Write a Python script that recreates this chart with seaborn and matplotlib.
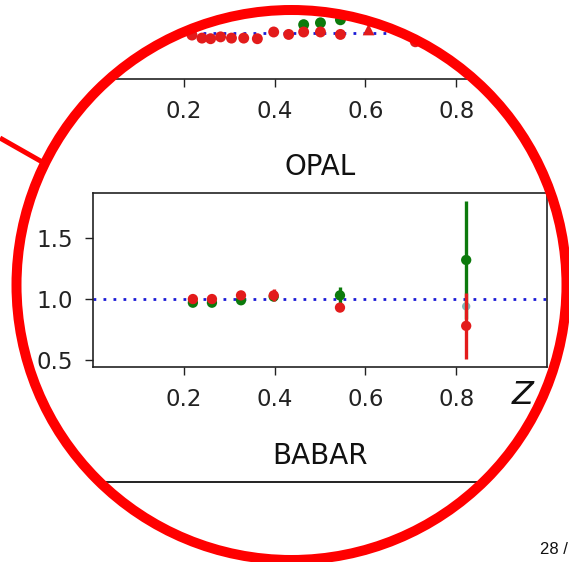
import numpy as np
import matplotlib
matplotlib.use("Agg")
import matplotlib.pyplot as plt
import seaborn as sns
from matplotlib.path import Path
from matplotlib.patches import PathPatch, Circle

sns.set_style("ticks")
plt.rcParams["font.family"] = ["DejaVu Sans"]

# ---- OPAL (upper panel) ----
opal_z_red = [0.218, 0.24, 0.259, 0.281, 0.305, 0.332, 0.362, 0.398,
              0.431, 0.464, 0.501, 0.545, 0.71]
opal_red = [0.985, 0.96, 0.955, 0.97, 0.96, 0.96, 0.955, 1.01,
            0.99, 1.01, 1.01, 0.99, 0.93]
opal_z_green = [0.464, 0.501, 0.545]
opal_green = [1.07, 1.085, 1.11]
opal_z_tri = [0.607]
opal_tri = [1.03]

# ---- BABAR (lower panel) ----
babar_z = [0.22, 0.262, 0.326, 0.398, 0.544, 0.822]
babar_green = [0.97, 0.97, 0.99, 1.02, 1.03, 1.32]
babar_green_err = [0.02, 0.02, 0.03, 0.03, 0.07, 0.48]
babar_red = [1.00, 1.00, 1.03, 1.03, 0.93, 0.78]
babar_red_err = [0.03, 0.03, 0.03, 0.05, 0.03, 0.27]
babar_z_cyan = [0.822]
babar_cyan = [0.94]

xticks = [0.2, 0.4, 0.6, 0.8]
xtick_labels = ["0.2", "0.4", "0.6", "0.8"]
yticks = [0.5, 1.0, 1.5]
ytick_labels = ["0.5", "1.0", "1.5"]

RED = "#e31b1b"
GREEN = "#0c7a0c"
CYAN = "#7fb8b8"
BLUE = "#1a1ad6"

W, H = 569, 562
fig = plt.figure(figsize=(W / 100, H / 100), dpi=100)
fig.patch.set_facecolor("white")


def px_box(left, top, right, bottom):
    return [left / W, 1 - bottom / H, (right - left) / W, (bottom - top) / H]


def style_axis(ax, ylim, show_ylabels=True):
    ax.axhline(1.0, color=BLUE, ls=(0, (1, 2.6)), lw=2.0, zorder=1)
    ax.set_xticks(xticks, xtick_labels)
    ax.set_yticks(yticks, ytick_labels)
    ax.set_xlim(0, 1.0)
    ax.set_ylim(*ylim)
    ax.tick_params(axis="both", length=5.8, width=1.0,
                   labelsize=16.5, colors="#222222", labelcolor="#222222")
    ax.tick_params(axis="x", pad=9.5)
    ax.tick_params(axis="y", pad=8.5, labelleft=show_ylabels)
    for sp in ax.spines.values():
        sp.set_visible(True)
        sp.set_color("#222222")
        sp.set_linewidth(1.2)
    ax.set_facecolor("white")
    ax.set_xlabel("")
    ax.set_ylabel("")


ax_t = fig.add_axes(px_box(93, -95, 547, 79))
sns.scatterplot(x=opal_z_green, y=opal_green, color=GREEN, s=62,
                edgecolor="none", ax=ax_t, zorder=3)
sns.scatterplot(x=opal_z_red, y=opal_red, color=RED, s=62,
                edgecolor="none", ax=ax_t, zorder=4)
sns.scatterplot(x=opal_z_tri, y=opal_tri, color=RED, s=70, marker="^",
                edgecolor="none", ax=ax_t, zorder=4)
style_axis(ax_t, (0.625, 2.05), show_ylabels=False)

ax_b = fig.add_axes(px_box(93, 193, 547, 367))
ax_b.errorbar(babar_z, babar_green, yerr=babar_green_err, fmt="none",
              ecolor=GREEN, elinewidth=2.4, capsize=0, zorder=2)
sns.scatterplot(x=babar_z, y=babar_green, color=GREEN, s=55,
                edgecolor="none", ax=ax_b, zorder=3)
sns.scatterplot(x=babar_z_cyan, y=babar_cyan, color=CYAN, s=36,
                edgecolor="none", ax=ax_b, zorder=3)
ax_b.errorbar(babar_z, babar_red, yerr=babar_red_err, fmt="none",
              ecolor=RED, elinewidth=2.4, capsize=0, zorder=4)
sns.scatterplot(x=babar_z, y=babar_red, color=RED, s=55,
                edgecolor="none", ax=ax_b, zorder=5)
style_axis(ax_b, (0.443, 1.869))

# Overlay in pixel coordinates: labels, magnifier lens and page number
ov = fig.add_axes([0, 0, 1, 1], zorder=10)
ov.set_xlim(0, W)
ov.set_ylim(H, 0)
ov.axis("off")
ov.patch.set_alpha(0)

ov.text(320, 167, "OPAL", ha="center", va="center", fontsize=20, color="#111111")
ov.text(320, 456, "BABAR", ha="center", va="center", fontsize=20, color="#111111")
ov.text(523, 396, "Z", ha="center", va="center", fontsize=23,
        style="italic", color="#111111")
ov.plot([40, 560], [482, 482], color="#222222", lw=1.4, zorder=1)

cx, cy, R = 291.5, 285.0, 275.0
theta = np.linspace(0, 2 * np.pi, 400)[::-1]
circ = np.column_stack([cx + R * np.cos(theta), cy + R * np.sin(theta)])
rect = np.array([[-10, -10], [W + 10, -10], [W + 10, H + 10], [-10, H + 10], [-10, -10]])
verts = np.vstack([rect, circ, circ[:1]])
codes = ([Path.MOVETO] + [Path.LINETO] * 3 + [Path.CLOSEPOLY]
         + [Path.MOVETO] + [Path.LINETO] * (len(circ) - 1) + [Path.CLOSEPOLY])
mask = PathPatch(Path(verts, codes), facecolor="white", edgecolor="none",
                 zorder=5, clip_on=False)
ov.add_patch(mask)

ov.add_patch(Circle((cx, cy), R, fill=False, edgecolor="#ff0000", lw=7.2,
                    zorder=6, clip_on=False))
ov.plot([0, 44], [138, 163], color="#ff0000", lw=3.6, zorder=6,
        solid_capstyle="butt", clip_on=False)
ov.text(540, 554, "28 /", ha="left", va="baseline", fontsize=12,
        family=["Liberation Sans", "DejaVu Sans"], color="#111111", zorder=7)

fig.savefig("out.png", dpi=100, facecolor="white")
